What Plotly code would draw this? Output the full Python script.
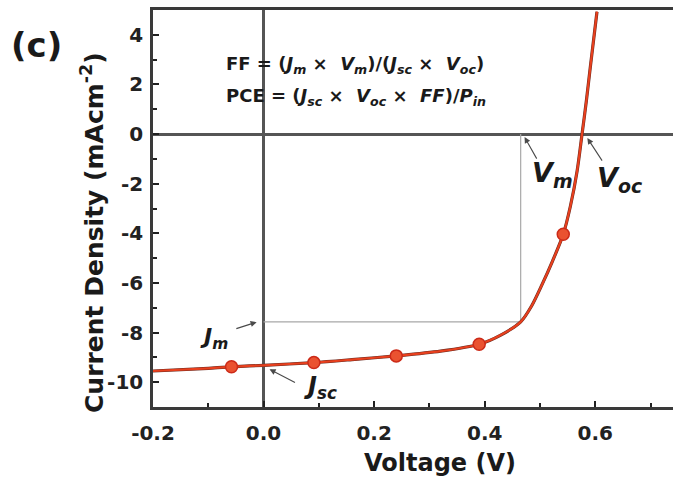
import plotly.graph_objects as go

# J-V curve of the solar cell (voltage in V, current density in mA cm^-2)
curve_v = [-0.20, -0.10, -0.058, 0.00, 0.091, 0.16, 0.24, 0.32, 0.39, 0.429,
           0.465, 0.485, 0.504, 0.522, 0.542, 0.555, 0.567, 0.576, 0.584, 0.591, 0.603]
curve_j = [-9.55, -9.44, -9.38, -9.32, -9.21, -9.09, -8.94, -8.75, -8.47, -8.10,
           -7.57, -6.92, -6.05, -5.15, -4.04, -2.90, -1.50, 0.00, 1.37, 2.71, 4.93]

# measured points marked on the curve
marker_v = [-0.058, 0.091, 0.24, 0.39, 0.542]
marker_j = [-9.38, -9.21, -8.94, -8.47, -4.04]

# maximum power point
v_m = 0.465
j_m = -7.57

x_ticks = [-0.2, 0.0, 0.2, 0.4, 0.6]
x_ticklabels = ["-0.2", "0.0", "0.2", "0.4", "0.6"]
y_ticks = [4, 2, 0, -2, -4, -6, -8, -10]
y_ticklabels = ["4", "2", "0", "-2", "-4", "-6", "-8", "-10"]

FONT = "DejaVu Sans"
DARK = "#222222"
RED = "#e8401e"


def bold(size, color="#1a1a1a"):
    return dict(family=FONT, size=size, color=color, weight="bold")


fig = go.Figure()

# thin guide lines to the maximum power point
fig.add_trace(go.Scatter(
    x=[0, v_m, v_m], y=[j_m, j_m, 0], mode="lines",
    line=dict(color="#a8a8a8", width=1.2), hoverinfo="skip", showlegend=False))

# dark thin core under the red curve
fig.add_trace(go.Scatter(
    x=curve_v, y=curve_j, mode="lines", line_shape="spline",
    line=dict(color="#6a2a20", width=3.2, smoothing=0.8), showlegend=False))
fig.add_trace(go.Scatter(
    x=curve_v, y=curve_j, mode="lines", line_shape="spline",
    line=dict(color=RED, width=2.2, smoothing=0.8), showlegend=False))
fig.add_trace(go.Scatter(
    x=marker_v, y=marker_j, mode="markers",
    marker=dict(size=12, color="#ea5230", line=dict(color="#cc2a18", width=1.5)),
    showlegend=False))

fig.update_xaxes(
    range=[-0.2, 0.7405], tickvals=x_ticks, ticktext=x_ticklabels,
    ticks="inside", ticklen=6, tickwidth=1.5, tickcolor=DARK,
    minor=dict(dtick=0.1, tick0=0, ticks="inside", ticklen=4, tickcolor=DARK, tickwidth=1.5),
    showline=True, linecolor="#3a3a3a", linewidth=2.5, mirror=True,
    showgrid=False, zeroline=True, zerolinecolor="#555", zerolinewidth=2.5,
    tickfont=bold(20, DARK), ticklabelstandoff=6)
fig.update_yaxes(
    range=[-11, 5], tickvals=y_ticks, ticktext=y_ticklabels,
    ticks="inside", ticklen=6, tickwidth=1.5, tickcolor=DARK,
    minor=dict(dtick=1, tick0=0, ticks="inside", ticklen=4, tickcolor=DARK, tickwidth=1.5),
    showline=True, linecolor="#3a3a3a", linewidth=2.5, mirror=False,
    showgrid=False, zeroline=True, zerolinecolor="#555", zerolinewidth=2.5,
    tickfont=bold(20, DARK), ticklabelstandoff=3)


def arrow(head_x, head_y, tail_x, tail_y):
    return dict(text="", x=head_x, y=head_y, ax=tail_x, ay=tail_y,
                xref="x", yref="y", axref="x", ayref="y", showarrow=True,
                arrowhead=2, arrowsize=1.1, arrowwidth=1.1, arrowcolor="#4a4a4a",
                standoff=0, startstandoff=0)


def label(text, x, y, size):
    return dict(text=text, x=x, y=y, xref="x", yref="y", showarrow=False,
                xanchor="center", yanchor="middle", font=bold(size))


fig.update_layout(
    width=673, height=480,
    margin=dict(l=153, r=0, t=10, b=73),
    paper_bgcolor="white", plot_bgcolor="white",
    showlegend=False,
    annotations=[
        dict(text="(c)", xref="paper", yref="paper", x=-0.225, y=0.912,
             xanchor="center", yanchor="middle", showarrow=False, font=bold(34)),
        dict(text="Current Density (mAcm<sup>-2</sup>)", xref="paper", yref="paper",
             x=-0.116, y=0.44, textangle=-90, showarrow=False,
             xanchor="center", yanchor="middle", font=bold(25)),
        dict(text="Voltage (V)", xref="paper", yref="paper", x=0.551, y=-0.141,
             xanchor="center", yanchor="middle", showarrow=False, font=bold(24)),
        dict(text="FF = (<i>J<sub>m</sub></i> ×  <i>V<sub>m</sub></i>)/(<i>J<sub>sc</sub></i> ×  <i>V<sub>oc</sub></i>)",
             x=-0.072, y=2.78, xanchor="left", yanchor="middle", showarrow=False,
             font=bold(18)),
        dict(text="PCE = (<i>J<sub>sc</sub></i> ×  <i>V<sub>oc</sub></i> ×  <i>FF</i>)/<i>P<sub>in</sub></i>",
             x=-0.072, y=1.49, xanchor="left", yanchor="middle", showarrow=False,
             font=bold(18)),
        arrow(0.472, -0.12, 0.4955, -1.05),
        arrow(0.5856, -0.16, 0.614, -1.13),
        arrow(-0.0126, -7.58, -0.052, -7.86),
        arrow(0.0108, -9.48, 0.0595, -10.04),
        label("<i>V<sub>m</sub></i>", 0.5225, -1.61, 27),
        label("<i>V<sub>oc</sub></i>", 0.643, -1.85, 27),
        label("<i>J<sub>m</sub></i>", -0.09, -8.23, 22),
        label("<i>J<sub>sc</sub></i>", 0.1027, -10.2, 24),
    ],
)

fig.write_html("out.html")
